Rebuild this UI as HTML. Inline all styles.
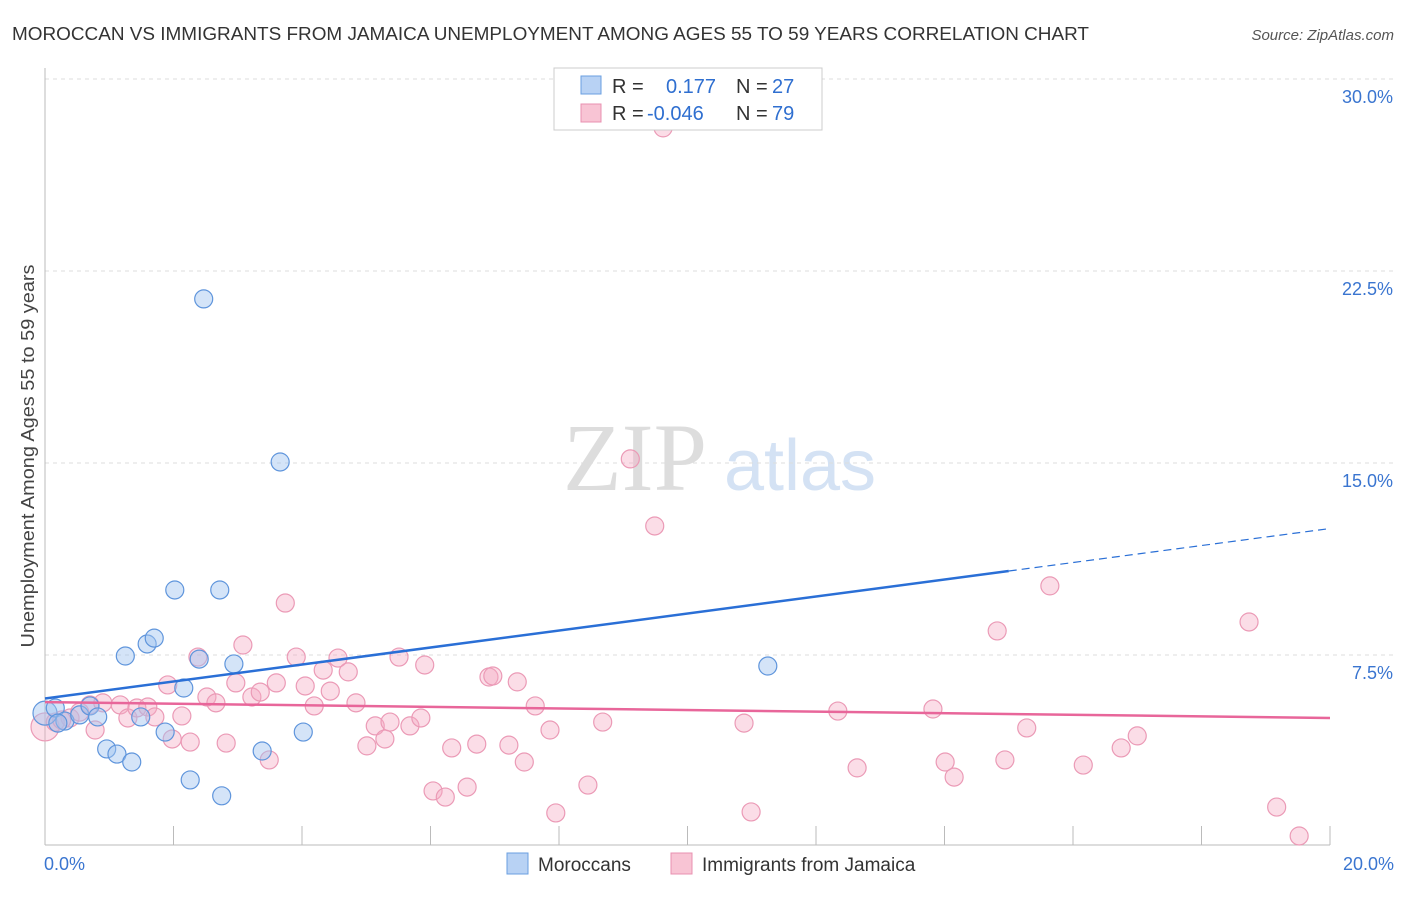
<!DOCTYPE html>
<html><head><meta charset="utf-8"><style>
body{margin:0;background:#fff;font-family:"Liberation Sans",sans-serif;}
</style></head><body>
<svg id="chart" width="1406" height="892" xmlns="http://www.w3.org/2000/svg" font-family="Liberation Sans, sans-serif">
<text x="12" y="40" font-size="18" fill="#333" textLength="1077" lengthAdjust="spacingAndGlyphs">MOROCCAN VS IMMIGRANTS FROM JAMAICA UNEMPLOYMENT AMONG AGES 55 TO 59 YEARS CORRELATION CHART</text>
<text x="1394" y="40" font-size="15" fill="#555" text-anchor="end" font-style="italic">Source: ZipAtlas.com</text>
<text transform="translate(34,456) rotate(-90)" font-size="18" fill="#444" text-anchor="middle" textLength="383" lengthAdjust="spacingAndGlyphs">Unemployment Among Ages 55 to 59 years</text>
<g><text x="635" y="490" font-size="96" fill="#ddd" font-family="Liberation Serif, serif" text-anchor="middle">ZIP</text><text x="800" y="490" font-size="72" fill="#d4e2f4" text-anchor="middle">atlas</text></g>
<g id="grid"></g><g id="axes"></g><g id="pts"></g><g id="lines"></g>
<g>
<rect x="554" y="68" width="268" height="62" fill="#fff" stroke="#ccc"/>
<rect x="581" y="76" width="20" height="18" fill="#b8d2f4" stroke="#6a9fe0"/>
<rect x="581" y="104" width="20" height="18" fill="#f8c4d4" stroke="#e890b0"/>
<text x="612" y="93" font-size="20" fill="#333">R =</text><text x="666" y="93" font-size="20" fill="#2f6fd0">0.177</text>
<text x="736" y="93" font-size="20" fill="#333">N =</text><text x="772" y="93" font-size="20" fill="#2f6fd0">27</text>
<text x="612" y="120" font-size="20" fill="#333">R =</text><text x="647" y="120" font-size="20" fill="#2f6fd0">-0.046</text>
<text x="736" y="120" font-size="20" fill="#333">N =</text><text x="772" y="120" font-size="20" fill="#2f6fd0">79</text>
</g>
<g>
<rect x="507" y="853" width="21" height="21" fill="#b8d2f4" stroke="#6a9fe0"/><text x="538" y="871" font-size="19" fill="#333">Moroccans</text>
<rect x="671" y="853" width="21" height="21" fill="#f8c4d4" stroke="#e890b0"/><text x="702" y="871" font-size="19" fill="#333">Immigrants from Jamaica</text>
</g>
</svg>
<script>
const yTicks=[7.5,15.0,22.5,30.0];
const xTickLabels=["0.0%","20.0%"];
const blueX=[0,0.16,0.31,0.54,0.7,0.82,0.96,1.12,1.25,1.35,1.49,1.59,1.7,1.87,2.02,2.16,2.26,2.4,2.47,2.72,2.75,2.94,3.38,3.66,4.02,11.25,0.2];
const blueY=[5.23,5.43,4.92,5.16,5.51,5.08,3.83,3.63,7.46,3.32,5.08,7.93,8.16,4.49,10.04,6.21,2.62,7.34,21.41,10.04,2.0,7.15,3.75,15.04,4.49,7.07,4.84];
const pinkX=[0,0.16,0.39,0.54,0.70,0.78,0.90,1.17,1.29,1.43,1.60,1.71,1.91,1.98,2.13,2.26,2.38,2.52,2.66,2.82,2.97,3.08,3.22,3.35,3.49,3.60,3.74,3.91,4.05,4.19,4.33,4.44,4.56,4.72,4.84,5.01,5.14,5.29,5.37,5.51,5.68,5.85,5.91,6.04,6.23,6.33,6.57,6.72,6.91,6.97,7.22,7.35,7.46,7.63,7.86,7.95,8.45,8.68,9.11,9.49,9.62,10.88,10.99,12.34,12.64,13.82,14.01,14.15,14.82,14.94,15.28,15.64,16.16,16.75,17.0,18.74,19.17,19.52,0.26];
const pinkY=[4.69,4.88,5.04,5.27,5.55,4.57,5.63,5.55,5.04,5.43,5.47,5.08,6.33,4.22,5.12,4.10,7.42,5.86,5.63,4.06,6.41,7.89,5.86,6.05,3.40,6.41,9.53,7.42,6.29,5.51,6.91,6.09,7.38,6.84,5.63,3.95,4.73,4.22,4.88,7.42,4.73,5.04,7.11,2.19,1.95,3.87,2.34,4.02,6.64,6.68,3.98,6.45,3.32,5.51,4.57,1.33,2.42,4.88,15.16,12.54,28.09,4.84,1.37,5.31,3.09,5.39,3.32,2.73,8.44,3.40,4.65,10.2,3.20,3.87,4.34,8.79,1.56,0.43,4.96];
const blueFit=[5.8,10.78];const pinkFit=[5.66,5.04];
const NS="http://www.w3.org/2000/svg";
const X=v=>45+v/20*1285, Y=v=>847-v/7.5*192;
function mk(t,a,p){const e=document.createElementNS(NS,t);for(const k in a)e.setAttribute(k,a[k]);document.getElementById(p).appendChild(e);return e;}
yTicks.forEach(t=>{
const g=mk('line',{x1:45,x2:1394,y1:Y(t),y2:Y(t),stroke:'#ddd','stroke-dasharray':'4,4'},'grid');


const l=mk('text',{x:1393,y:Y(t)+24,'font-size':18,fill:'#3a75d0','text-anchor':'end'},'grid');
l.textContent=t.toFixed(1)+'%';


});
const ax=mk('line',{x1:45,x2:45,y1:68,y2:845,stroke:'#bbb'},'axes');


const bx=mk('line',{x1:45,x2:1330,y1:845,y2:845,stroke:'#bbb'},'axes');


for(let i=1;i<=10;i++){const t=mk('line',{x1:X(i*2),x2:X(i*2),y1:826,y2:845,stroke:'#bbb'},'axes');

}
[[0,'start'],[20,'end']].forEach((d,i)=>{const t=mk('text',{x:i?1394:44,y:870,'font-size':18,fill:'#3a75d0','text-anchor':d[1]},'axes');t.textContent=xTickLabels[i];

});
pinkX.forEach((x,i)=>{const c=mk('circle',{cx:X(x),cy:Y(pinkY[i]),r:i==0?14:9,fill:'rgba(244,170,196,0.4)',stroke:'#eb9ab6','stroke-width':1.2},'pts');

});
blueX.forEach((x,i)=>{const c=mk('circle',{cx:X(x),cy:Y(blueY[i]),r:i==0?12:9,fill:'rgba(160,196,240,0.45)',stroke:'#5f95dc','stroke-width':1.2},'pts');

});
const bl=mk('line',{x1:X(0),y1:Y(blueFit[0]),x2:X(15),y2:Y(blueFit[1]),stroke:'#2a6fd6','stroke-width':2.5},'lines');


const slope=(blueFit[1]-blueFit[0])/15;
const bd=mk('line',{x1:X(15),y1:Y(blueFit[1]),x2:X(20),y2:Y(blueFit[0]+slope*20),stroke:'#2a6fd6','stroke-width':1.2,'stroke-dasharray':'8,5'},'lines');


const pl=mk('line',{x1:X(0),y1:Y(pinkFit[0]),x2:X(20),y2:Y(pinkFit[1]),stroke:'#e8669a','stroke-width':2.5},'lines');


</script>
</body></html>
